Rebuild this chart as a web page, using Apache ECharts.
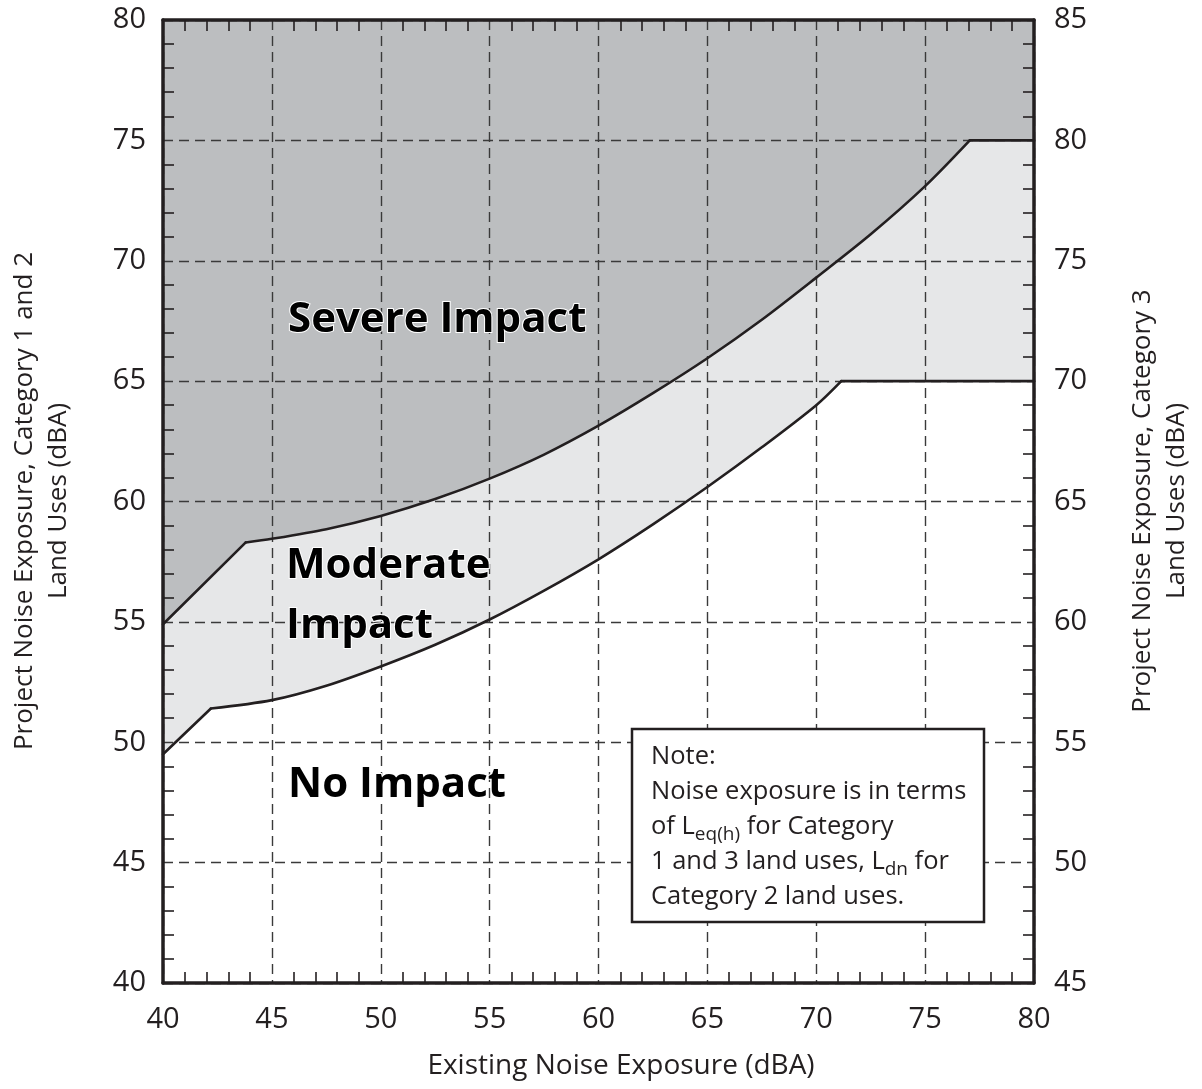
<!DOCTYPE html>
<html><head><meta charset="utf-8">
<script src="https://cdn.jsdelivr.net/npm/echarts@6/dist/echarts.min.js"></script>
<style>html,body{margin:0;padding:0;background:#fff}#c{width:1202px;height:1089px}</style>
</head><body><div id="c"></div>
<script>
// Axis ranges / tick settings
const xRange = [40, 80];
const yLeftRange = [40, 80];
const yRightRange = [45, 85];
const tickStep = 5;

// Severe-impact onset curve (Category 1 & 2 scale)
const severeX = [40, 43.8, 45, 47.5, 50, 52.5, 55, 57.5, 60, 62.5, 65, 67.5, 70, 72.5, 75, 77.05, 80];
const severeY = [54.9, 58.3, 58.45, 58.85, 59.4, 60.1, 60.95, 61.95, 63.15, 64.5, 65.95, 67.55, 69.3, 71.1, 73.1, 75, 75];

// Moderate-impact onset curve
const moderateX = [40, 42.2, 45, 47.5, 50, 52.5, 55, 57.5, 60, 62.5, 65, 67.5, 70, 71.15, 80];
const moderateY = [49.5, 51.4, 51.75, 52.35, 53.15, 54.05, 55.1, 56.3, 57.6, 59.05, 60.6, 62.25, 64.0, 65, 65];

// Texts
const xTitle = 'Existing Noise Exposure (dBA)';
const yLeftTitle = ['Project Noise Exposure, Category 1 and 2', 'Land Uses (dBA)'];
const yRightTitle = ['Project Noise Exposure, Category 3', 'Land Uses (dBA)'];
const regionLabels = ['Severe Impact', 'Moderate', 'Impact', 'No Impact'];

const INK = '#231f20';
const SEVERE = '#bcbec0';
const MODERATE = '#e6e7e8';
const FONT = '"Open Sans", "Noto Sans", sans-serif';

const zip = (xs, ys) => xs.map((x, i) => [x, ys[i]]);

// split a curve into straight start, smooth middle, straight end (by kink indices)
function pieces(xs, ys, k1, k2) {
  const pts = zip(xs, ys);
  return [
    { data: pts.slice(0, k1 + 1), smooth: false },
    { data: pts.slice(k1, k2 + 1), smooth: 0.3 },
    { data: pts.slice(k2), smooth: false }
  ];
}
const severePieces = pieces(severeX, severeY, 1, severeX.length - 2);
const moderatePieces = pieces(moderateX, moderateY, 1, moderateX.length - 2);

const fill = (data, smooth, color) => ({ type: 'line', data, smooth, symbol: 'none', z: 1, silent: true,
  lineStyle: { width: 0 }, areaStyle: { color, opacity: 1, origin: 'start' } });

const series = [
  fill(zip(severeX, severeY), false, MODERATE),
  fill(severePieces[1].data, 0.3, MODERATE),
  fill(zip(moderateX, moderateY), false, '#ffffff'),
  fill(moderatePieces[1].data, 0.3, '#ffffff')
];
severePieces.concat(moderatePieces).forEach(p => series.push({ type: 'line', data: p.data, smooth: p.smooth, symbol: 'none', z: 4,
  lineStyle: { color: INK, width: 2.6, cap: 'round', join: 'round' } }));

const minor = { show: true, splitNumber: 5, length: 11, lineStyle: { color: INK, width: 1.6 } };
const axLine = { show: true, lineStyle: { color: INK, width: 3.5 } };
const dashed = { show: true, lineStyle: { color: '#3a3a3a', width: 1.4, type: [10, 6] } };
const lbl = { color: INK, fontSize: 29, fontFamily: FONT };

const chart = echarts.init(document.getElementById('c'), null, { renderer: 'canvas' });

const titleStyle = (t, size) => ({ text: t, fill: INK, font: size + 'px ' + FONT, align: 'center', verticalAlign: 'middle' });
const bigStyle = t => ({ text: t, fill: '#000', font: 'bold 42px ' + FONT, stroke: '#fff', lineWidth: 2, align: 'left', verticalAlign: 'middle' });

const option = {
  animation: false,
  grid: { left: 163, right: 168, top: 20, bottom: 106, show: true, backgroundColor: SEVERE, borderWidth: 0 },
  xAxis: [
    { type: 'value', position: 'bottom', min: xRange[0], max: xRange[1], interval: tickStep, z: 3,
      axisLine: axLine, axisTick: { show: false, inside: true }, minorTick: minor,
      splitLine: dashed, axisLabel: Object.assign({ margin: 22, showMinLabel: true, showMaxLabel: true }, lbl) },
    { type: 'value', position: 'top', min: xRange[0], max: xRange[1], interval: tickStep, z: 3,
      axisLine: axLine, axisTick: { show: false, inside: true }, minorTick: minor,
      splitLine: { show: false }, axisLabel: { show: false } }
  ],
  yAxis: [
    { type: 'value', position: 'left', min: yLeftRange[0], max: yLeftRange[1], interval: tickStep, z: 3,
      axisLine: axLine, axisTick: { show: false, inside: true }, minorTick: minor,
      splitLine: dashed, axisLabel: Object.assign({ margin: 17 }, lbl) },
    { type: 'value', position: 'right', min: yRightRange[0], max: yRightRange[1], interval: tickStep, z: 3,
      axisLine: axLine, axisTick: { show: false, inside: true }, minorTick: minor,
      splitLine: { show: false }, axisLabel: Object.assign({ margin: 20 }, lbl) }
  ],
  series: series,
  graphic: [
    { type: 'text', x: 621, y: 1066, z: 10, style: titleStyle(xTitle, 28) },
    { type: 'text', x: 25, y: 501, rotation: Math.PI / 2, z: 10, style: titleStyle(yLeftTitle[0], 26) },
    { type: 'text', x: 59, y: 501, rotation: Math.PI / 2, z: 10, style: titleStyle(yLeftTitle[1], 26) },
    { type: 'text', x: 1143, y: 501, rotation: Math.PI / 2, z: 10, style: titleStyle(yRightTitle[0], 26) },
    { type: 'text', x: 1177, y: 501, rotation: Math.PI / 2, z: 10, style: titleStyle(yRightTitle[1], 26) },
    { type: 'text', x: 288, y: 320, z: 10, style: bigStyle(regionLabels[0]) },
    { type: 'text', x: 286, y: 566, z: 10, style: bigStyle(regionLabels[1]) },
    { type: 'text', x: 286, y: 626, z: 10, style: bigStyle(regionLabels[2]) },
    { type: 'text', x: 288, y: 785, z: 10, style: bigStyle(regionLabels[3]) },
    { type: 'rect', z: 20, shape: { x: 632, y: 729, width: 352, height: 193 }, style: { fill: '#fff', stroke: INK, lineWidth: 2.5 } },
    { type: 'text', x: 651, y: 739, z: 21, style: {
        text: '{n|Note:}\n{n|Noise exposure is in terms}\n{n|of L}{s|eq(h)}{n| for Category}\n{n|1 and 3 land uses, L}{s|dn}{n| for}\n{n|Category 2 land uses.}',
        fill: INK, font: '25.5px ' + FONT, align: 'left', verticalAlign: 'top',
        rich: {
          n: { fontSize: 25.5, fontFamily: FONT, lineHeight: 35, fill: INK },
          s: { fontSize: 19, fontFamily: FONT, lineHeight: 35, verticalAlign: 'bottom', fill: INK }
        } } }
  ]
};
chart.setOption(option);
</script></body></html>
